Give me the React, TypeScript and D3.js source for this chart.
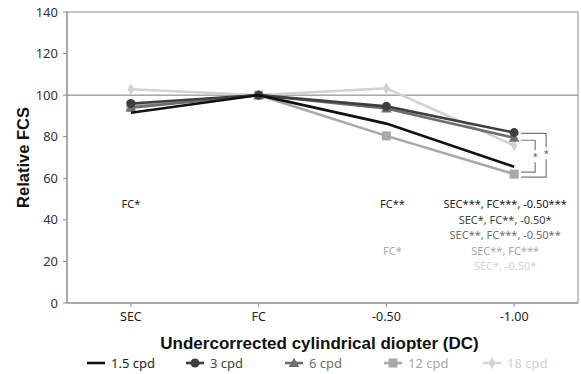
import React from "react";
import * as d3 from "d3";

const categories = ["SEC", "FC", "-0.50", "-1.00"];
const yTicks = [0, 20, 40, 60, 80, 100, 120, 140];

const seriesNames = ["1.5 cpd", "3 cpd", "6 cpd", "12 cpd", "18 cpd"];
const seriesColors = ["#111111", "#3f3f3f", "#6e6e6e", "#a8a8a8", "#d2d2d2"];
const seriesMarkers = ["none", "circle", "triangle", "square", "diamond"];
const values1_5 = [91.5, 100, 86.3, 65.6];
const values3 = [96, 100, 94.6, 82];
const values6 = [94, 100, 93.6, 79.5];
const values12 = [95, 100, 80.4, 62];
const values18 = [102.8, 100, 103.3, 75.8];
const allValues = [values1_5, values3, values6, values12, values18];

// significance notes: [category, row, text, series index]
const notes: [string, number, string, number][] = [
  ["SEC", 0, "FC*", 0],
  ["-0.50", 0, "FC**", 0],
  ["-1.00", 0, "SEC***, FC***, -0.50***", 0],
  ["-1.00", 1, "SEC*, FC**, -0.50*", 1],
  ["-1.00", 2, "SEC**, FC***, -0.50**", 2],
  ["-0.50", 3, "FC*", 3],
  ["-1.00", 3, "SEC**, FC***", 3],
  ["-1.00", 4, "SEC*, -0.50*", 4],
];
const noteRows = [47.5, 40, 32.5, 25, 17.5];

// brackets at -1.00: [top value, bottom value, label]
const brackets: [number, number, string][] = [
  [78.3, 63, "*"],
  [81.6, 60.6, "*"],
];

const W = 581;
const H = 374;
const m = { left: 67, right: 3, top: 12, bottom: 71 };

const App: React.FC = () => {
  const x = d3
    .scaleBand()
    .domain(categories)
    .range([m.left, W - m.right]);
  const y = d3
    .scaleLinear()
    .domain([0, 140])
    .range([H - m.bottom, m.top]);
  const cx = (c: string) => (x(c) || 0) + x.bandwidth() / 2;

  const line = d3
    .line<number>()
    .x((_, i) => cx(categories[i]))
    .y((d) => y(d));

  const marker = (kind: string, px: number, py: number, color: string, key: string) => {
    if (kind === "circle") return <circle key={key} cx={px} cy={py} r={4.5} fill={color} />;
    if (kind === "square") return <rect key={key} x={px - 4.5} y={py - 4.5} width={9} height={9} fill={color} />;
    if (kind === "triangle") {
      const sym = d3.symbol().type(d3.symbolTriangle).size(50)();
      return <path key={key} d={sym || ""} transform={`translate(${px},${py + 1})`} fill={color} />;
    }
    if (kind === "diamond") {
      const sym = d3.symbol().type(d3.symbolDiamond).size(40)();
      return <path key={key} d={sym || ""} transform={`translate(${px},${py})`} fill={color} />;
    }
    return null;
  };

  const font = "'Noto Sans', sans-serif";
  const axisColor = "#8c8c8c";
  const x0 = m.left;
  const x1 = W - m.right;
  const yb = y(0);

  return (
    <svg width={W} height={H} style={{ position: "absolute", left: 0, top: 0 }}>
      <rect width={W} height={H} fill="#fff" />
      {/* frame */}
      <line x1={x0} x2={x1} y1={y(140)} y2={y(140)} stroke={axisColor} />
      <line x1={x1} x2={x1} y1={y(140)} y2={yb} stroke={axisColor} />
      <line x1={x0} x2={x1} y1={y(100)} y2={y(100)} stroke="#7a7a7a" />
      <line x1={x0} x2={x0} y1={y(140)} y2={yb} stroke={axisColor} strokeWidth={1.5} />
      <line x1={x0} x2={x1} y1={yb} y2={yb} stroke={axisColor} strokeWidth={1.5} />
      {yTicks.map((t) => (
        <g key={t}>
          <line x1={x0 - 4} x2={x0} y1={y(t)} y2={y(t)} stroke={axisColor} />
          <text x={x0 - 9} y={y(t)} dy="0.35em" textAnchor="end" fontFamily={font} fontSize={13} fill="#333">
            {t}
          </text>
        </g>
      ))}
      {categories.map((c) => (
        <g key={c}>
          <line x1={cx(c)} x2={cx(c)} y1={yb} y2={yb + 4} stroke={axisColor} />
          <text x={cx(c)} y={yb + 14} dy="0.35em" textAnchor="middle" fontFamily={font} fontSize={12.5} fill="#222">
            {c}
          </text>
        </g>
      ))}
      <text
        transform={`translate(23,${(y(140) + yb) / 2}) rotate(-90)`}
        textAnchor="middle"
        dy="0.35em"
        fontFamily="'Liberation Sans', Arial, sans-serif"
        fontWeight="bold"
        fontSize={16.5}
        fill="#111"
      >
        Relative FCS
      </text>
      <text
        x={(x0 + x1) / 2 - 3}
        y={yb + 40}
        dy="0.35em"
        textAnchor="middle"
        fontFamily="'Liberation Sans', Arial, sans-serif"
        fontWeight="bold"
        fontSize={17}
        fill="#111"
      >
        Undercorrected cylindrical diopter (DC)
      </text>
      {/* series, drawn lightest first */}
      {[4, 3, 2, 1, 0].map((si) => (
        <g key={seriesNames[si]}>
          <path d={line(allValues[si]) || ""} fill="none" stroke={seriesColors[si]} strokeWidth={2.6} />
          {allValues[si].map((v, i) =>
            marker(seriesMarkers[si], cx(categories[i]), y(v), seriesColors[si], `${si}-${i}`)
          )}
        </g>
      ))}
      {/* brackets, with the star sitting in a gap of the vertical */}
      {brackets.map(([a, b, lbl], i) => {
        const bx0 = cx("-1.00") + 7;
        const bx1 = bx0 + 14 + i * 11;
        const mid = (y(a) + y(b)) / 2 - i * 2;
        return (
          <g key={i}>
            <path
              d={`M${bx0},${y(a)}H${bx1}V${mid - 6}M${bx1},${mid + 6}V${y(b)}H${bx0}`}
              stroke="#7a7a7a"
              fill="none"
              strokeWidth={1.2}
            />
            <text x={bx1} y={mid + 4} textAnchor="middle" fill="#555" fontFamily={font} fontSize={9}>
              {lbl}
            </text>
          </g>
        );
      })}
      {/* significance notes */}
      {notes.map(([c, r, txt, si], i) => (
        <text
          key={i}
          x={c === "-1.00" ? cx(c) - 9 : c === "-0.50" ? cx(c) + 6 : cx(c)}
          y={y(noteRows[r])}
          dy="0.35em"
          textAnchor="middle"
          fontFamily={font}
          fontSize={11}
          fill={si === 0 ? "#222" : seriesColors[si]}
        >
          {txt}
        </text>
      ))}
      {/* legend */}
      {seriesNames.map((n, si) => {
        const lx = 87 + si * 99;
        const ly = 363;
        return (
          <g key={n}>
            <line x1={lx} x2={lx + 18} y1={ly} y2={ly} stroke={seriesColors[si]} strokeWidth={2.6} />
            {marker(seriesMarkers[si], lx + 9, ly, seriesColors[si], `lg-${si}`)}
            <text x={lx + 24} y={ly} dy="0.35em" fontFamily={font} fontSize={13} fill={si === 0 ? "#222" : seriesColors[si]}>
              {n}
            </text>
          </g>
        );
      })}
    </svg>
  );
};

export default App;
